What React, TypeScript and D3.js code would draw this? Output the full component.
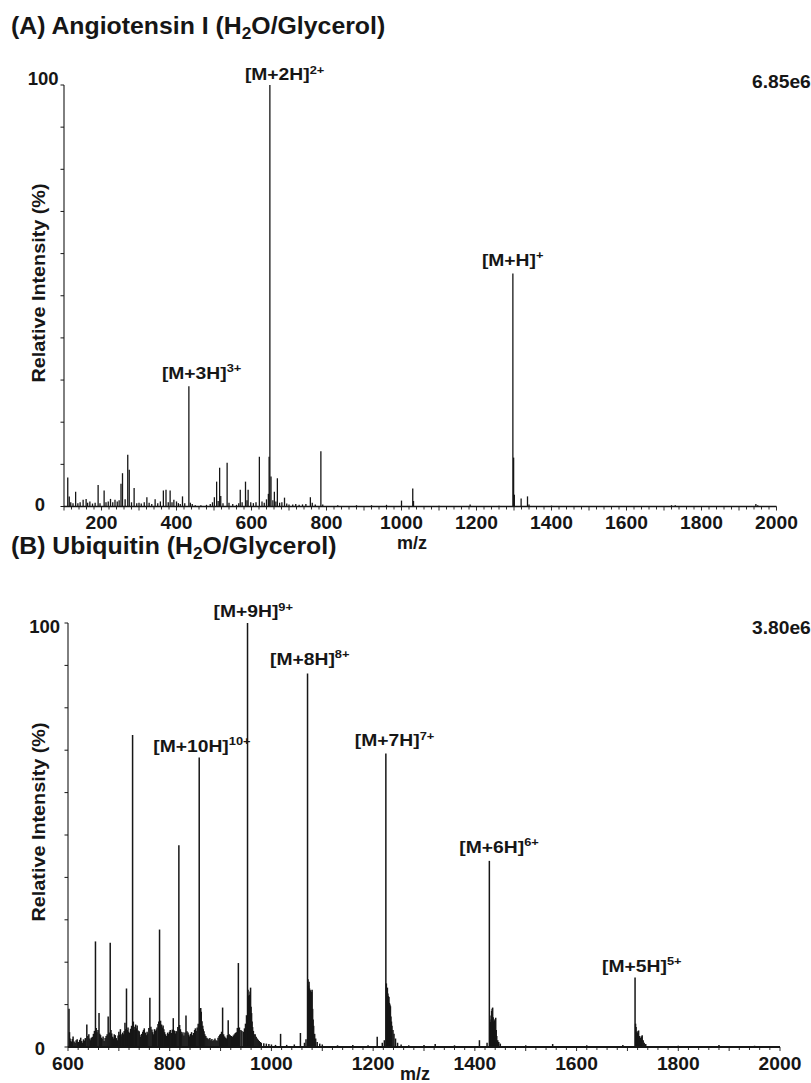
import React from "react";
import * as d3 from "d3";

const FONT = "'Liberation Sans', Arial, Helvetica, sans-serif";
const INK = "#161616";

// ---------- Angiotensin I (H2O/Glycerol): [m/z, relative intensity %] ----------
const angiotensinPeaks: [number, number][] = [
  [110, 6.9], [114, 2.4], [118, 1.0], [124, 0.8], [131, 3.5], [137, 0.8], [143, 1.0],
  [151, 1.6], [159, 1.8], [163, 0.9], [169, 1.2], [176, 0.7], [183, 0.9], [191, 5.1],
  [196, 0.8], [207, 3.8], [212, 1.0], [218, 1.2], [224, 1.8], [230, 1.0], [236, 1.6],
  [242, 1.2], [247, 1.5], [252, 5.4], [256, 7.9], [263, 1.7], [270, 12.3], [274, 8.7],
  [280, 1.0], [287, 4.4], [294, 0.8], [300, 0.9], [306, 0.7], [314, 1.0], [321, 2.2],
  [327, 0.9], [334, 0.6], [343, 1.7], [350, 0.8], [357, 1.2], [365, 3.8], [372, 4.0],
  [378, 1.0], [383, 3.8], [388, 1.0], [393, 1.6], [400, 1.2], [405, 0.8], [410, 0.6],
  [416, 2.4], [422, 0.8], [433, 28.5], [437, 0.9], [442, 0.6], [450, 0.3], [465, 0.3],
  [480, 0.4], [490, 0.6], [496, 1.0], [501, 2.2], [507, 5.9], [511, 1.3], [515, 9.2],
  [518, 2.5], [524, 0.8], [535, 10.4], [540, 0.9], [550, 0.6], [560, 0.4], [566, 0.8],
  [570, 4.0], [575, 1.0], [584, 5.9], [588, 1.5], [591, 4.0], [598, 1.0], [605, 0.8],
  [612, 1.0], [621, 11.8], [628, 1.2], [634, 0.9], [640, 1.7], [645, 3.0], [647, 11.8],
  [649, 100], [652, 7.1], [657, 1.5], [661, 3.5], [665, 1.2], [669, 6.7], [675, 0.9],
  [681, 1.0], [688, 2.1], [694, 0.7], [700, 0.5], [710, 0.5], [718, 0.6], [727, 0.4],
  [736, 0.5], [745, 0.6], [757, 2.2], [762, 0.9], [770, 0.5], [785, 13.1], [790, 0.5],
  [830, 0.3], [880, 0.3], [920, 0.3], [960, 0.4], [1000, 1.4], [1030, 4.3], [1032, 1.3],
  [1100, 0.2], [1183, 0.5], [1260, 0.2], [1297, 55.3], [1299, 11.6], [1301, 2.8],
  [1319, 1.9], [1336, 2.4], [1340, 0.5], [1400, 0.2], [1720, 0.3], [1730, 0.3],
  [1945, 0.6], [1950, 0.3],
];

const angiotensinIons = [
  { ion: "[M+3H]", charge: "3+", mz: 433 },
  { ion: "[M+2H]", charge: "2+", mz: 649 },
  { ion: "[M+H]", charge: "+", mz: 1297 },
];

const angiotensinXTicks = [200, 400, 600, 800, 1000, 1200, 1400, 1600, 1800, 2000];

// ---------- Ubiquitin (H2O/Glycerol): [m/z, relative intensity %] ----------
const ubiquitinPeaks: [number, number][] = [
  // low-level chemical background
  [602, 9.0], [603, 3.5], [604, 2.0], [605.5, 1.4], [607, 1.2], [608.5, 1.9], [610, 2.5],
  [612, 1.3], [614, 1.0], [616, 1.6], [618, 1.8], [619.5, 1.1], [621, 1.2], [623, 1.7],
  [625, 2.2], [627, 1.4], [629, 1.0], [630.5, 1.8], [632, 1.5], [634, 2.1], [637, 5.3],
  [639, 2.6], [641, 3.0], [643, 2.0], [644, 1.6], [646, 2.2], [648, 2.4], [650, 3.1],
  [652, 3.8], [654, 24.9], [655.5, 4.5], [657, 3.5], [659, 4.0], [661, 8.0], [662.5, 3.1],
  [664, 2.8], [666, 2.2], [667, 1.9], [669, 2.5], [671, 1.4], [673, 2.1], [675, 2.6],
  [677, 3.0], [679, 7.2], [681, 3.4], [683, 24.6], [684.5, 4.0], [686, 3.2], [688, 2.4],
  [689, 2.0], [691, 3.0], [693, 2.8], [695, 2.1], [697, 1.6], [698.5, 2.7], [700, 3.6],
  [701.5, 2.9], [703, 4.2], [704.5, 3.0], [706, 2.5], [707.5, 3.4], [709, 3.0], [710.5, 3.8],
  [712, 5.7], [713.5, 4.2], [715, 13.8], [716.5, 4.0], [718, 4.6], [719.5, 3.6], [721, 3.3],
  [723, 4.3], [725, 5.0], [727, 73.6], [728.5, 6.0], [730, 4.8], [731.5, 4.0], [733, 5.3],
  [734.5, 4.4], [736, 5.1], [738, 3.9], [740, 3.7], [741.5, 2.9], [743, 2.4], [745, 3.1],
  [747, 3.6], [748.5, 4.0], [750, 4.4], [752, 3.4], [754, 2.8], [755.5, 3.6], [757, 3.2],
  [759, 4.5], [761, 11.6], [763, 4.8], [765, 4.1], [766.5, 3.5], [768, 3.0], [770, 4.2],
  [772, 3.8], [773.5, 4.1], [775, 4.6], [777, 5.4], [778.5, 6.0], [780, 27.7], [782, 6.2],
  [784, 5.3], [785.5, 4.6], [787, 5.1], [788.5, 4.2], [790, 3.5], [792, 3.0], [794, 2.6],
  [796, 3.4], [798, 3.1], [799.5, 3.6], [801, 4.0], [803, 3.3], [805, 4.1], [807, 6.8],
  [809, 3.9], [811, 3.2], [812.5, 3.8], [814, 3.6], [816, 4.7], [818, 47.6], [819.5, 5.2],
  [821, 4.2], [822.5, 3.6], [824, 3.0], [826, 3.5], [828, 2.7], [830, 3.4], [832, 7.4],
  [834, 3.7], [836, 3.4], [837.5, 2.9], [839, 2.5], [841, 3.1], [843, 3.5], [845, 2.8],
  [847, 3.3], [849, 4.0], [850.5, 4.4], [852, 3.8], [854, 4.6], [856, 5.5], [858, 68.3],
  [859, 9.0], [860, 8.7], [861, 9.2], [862, 8.3], [863.5, 6.1], [865, 5.0], [866, 4.2],
  [867.5, 3.7], [869, 3.0], [871, 2.6], [873, 2.2], [875, 2.0], [877, 1.8], [879, 2.1],
  [881, 1.6], [883, 1.9], [885, 1.4], [887, 1.7], [889, 2.0], [891, 1.6], [893, 1.5],
  [895, 2.2], [897, 2.6], [898.5, 2.9], [900, 3.1], [902, 3.6], [904, 9.3], [906, 3.0],
  [908, 2.5], [910, 2.2], [912, 2.0], [913.5, 2.8], [915, 6.3], [917, 3.0], [919, 2.8],
  [921, 2.6], [923, 2.4], [925, 2.7], [927, 3.0], [929, 3.3], [931, 3.5], [933, 4.5],
  [935, 19.8], [937, 4.6], [940, 4.0], [942, 3.8], [945, 3.6], [947, 4.4], [949, 5.5],
  [951, 7.5],
  // 9+ envelope
  [953, 100], [954, 13.5], [955, 12.1], [956, 11.6], [957, 12.3], [958, 13.1], [959, 14.0],
  [960, 9.5], [961, 8.0], [962, 6.0], [963, 4.7], [964.5, 3.8], [966, 3.0], [968, 3.0],
  [970, 2.4], [972, 2.0], [974, 1.7], [976, 1.4], [978, 1.2], [980, 1.0], [985, 0.9],
  [990, 0.8], [995, 0.7], [1000, 0.6], [1008, 0.5], [1018, 3.1], [1030, 0.5], [1045, 0.6],
  [1057, 3.3], [1065, 1.0], [1068, 1.8],
  // 8+ envelope
  [1071, 88.1], [1072, 16.0], [1073, 14.5], [1074, 15.4], [1075, 13.8], [1076, 12.9],
  [1077, 13.4], [1078, 12.6], [1079, 13.0], [1080, 13.5], [1081, 9.0], [1082, 6.5],
  [1083, 5.0], [1085, 3.1], [1087, 2.0], [1090, 1.2], [1095, 0.8], [1100, 0.6],
  [1130, 0.4], [1160, 0.5], [1190, 0.4], [1208, 2.4], [1218, 1.0], [1222, 1.6],
  // 7+ envelope
  [1225, 69.2], [1226, 15.0], [1227, 13.2], [1228, 14.0], [1229, 12.6], [1230, 12.0],
  [1231, 11.8], [1232, 10.4], [1233, 10.0], [1234, 9.6], [1235, 7.2], [1236, 6.0],
  [1237, 5.0], [1239, 4.0], [1241, 3.1], [1244, 2.0], [1248, 1.0], [1255, 0.6],
  [1270, 0.4], [1300, 0.5], [1322, 0.7], [1360, 0.4], [1409, 1.6], [1424, 1.0],
  // 6+ envelope
  [1428.5, 43.9], [1429.5, 6.5], [1431, 5.9], [1432, 7.4], [1433, 8.5], [1434, 9.0],
  [1435, 9.3], [1436, 7.0], [1437, 6.0], [1438, 5.9], [1439, 6.3], [1440, 6.6],
  [1441, 6.9], [1442, 4.0], [1443, 2.6], [1445, 1.6], [1447, 1.2], [1450, 0.8],
  [1500, 0.4], [1553, 0.7], [1620, 0.4], [1691, 0.5],
  // 5+ envelope
  [1715, 16.4], [1716, 5.5], [1717, 4.7], [1718, 3.6], [1719, 3.0], [1720, 3.4],
  [1721, 3.8], [1722, 3.9], [1724, 2.6], [1726, 2.2], [1728, 2.5], [1729, 2.8],
  [1731, 1.6], [1733, 1.0], [1736, 0.7], [1800, 0.3], [1880, 0.5], [1950, 0.3],
];

const ubiquitinIons = [
  { ion: "[M+10H]", charge: "10+", mz: 858 },
  { ion: "[M+9H]", charge: "9+", mz: 953 },
  { ion: "[M+8H]", charge: "8+", mz: 1071 },
  { ion: "[M+7H]", charge: "7+", mz: 1225 },
  { ion: "[M+6H]", charge: "6+", mz: 1428.5 },
  { ion: "[M+5H]", charge: "5+", mz: 1715 },
];

const ubiquitinXTicks = [600, 800, 1000, 1200, 1400, 1600, 1800, 2000];

// ---------- layout ----------
type Layout = {
  left: number; right: number; top: number; base: number;
  titleY: number; tickLabelY: number; mzX: number; mzY: number;
  y100: [number, number]; y0: [number, number];
  yLabelCenter: number; scaleY: number; stick: number; axisW: number;
  ionOffsets: [number, number][]; // label left offset from peak, baseline gap above peak top
};

const layoutA: Layout = {
  left: 64, right: 776.5, top: 85, base: 506.5,
  titleY: 34, tickLabelY: 529, mzX: 412, mzY: 549,
  y100: [58.5, 85], y0: [45, 511],
  yLabelCenter: 283, scaleY: 88, stick: 1.3, axisW: 1.4,
  ionOffsets: [[-27, 7.5], [-25, 5], [-31, 7.5]],
};

const layoutB: Layout = {
  left: 68, right: 780, top: 623, base: 1047,
  titleY: 554, tickLabelY: 1070, mzX: 415, mzY: 1080,
  y100: [60, 633], y0: [45, 1055],
  yLabelCenter: 822, scaleY: 634, stick: 1.5, axisW: 2,
  ionOffsets: [[-46, 5.5], [-34, 6], [-37.5, 8.5], [-31, 7.5], [-30, 8], [-33, 5.5]],
};

type Ion = { ion: string; charge: string; mz: number };

function Spectrum(props: {
  peaks: [number, number][];
  ions: Ion[];
  domain: [number, number];
  ticks: number[];
  layout: Layout;
  titleHead: string;
  titleTail: string;
  baseIntensity: string;
}) {
  const { peaks, ions, domain, ticks, layout: L, titleHead, titleTail, baseIntensity } = props;
  const x = d3.scaleLinear().domain(domain).range([L.left, L.right]);
  const y = d3.scaleLinear().domain([0, 100]).range([L.base, L.top]);
  const minor = d3.range(domain[0], domain[1] + 0.1, 20);
  const yTicks = d3.range(0, 101, 10);
  const valueAt = (mz: number) => {
    const p = peaks.find((d) => d[0] === mz);
    return p ? p[1] : 0;
  };

  return (
    <g>
      {/* panel title */}
      <text
        transform={`translate(11,${L.titleY}) scale(1.08,1)`}
        fontFamily={FONT} fontWeight="bold" fontSize={23} fill={INK}
      >
        <tspan>{titleHead}</tspan>
        <tspan fontSize={16} dy={5}>2</tspan>
        <tspan dy={-5}>{titleTail}</tspan>
      </text>

      {/* stick spectrum */}
      <g stroke={INK} strokeWidth={L.stick}>
        {peaks.map(([mz, v], i) => (
          <line key={i} x1={x(mz)} x2={x(mz)} y1={y(0)} y2={y(v)} />
        ))}
      </g>

      {/* y axis */}
      <line x1={L.left} x2={L.left} y1={y(0)} y2={y(100)} stroke={INK} strokeWidth={1.1} />
      <g stroke={INK} strokeWidth={1}>
        {yTicks.map((t) => (
          <line key={t} x1={L.left - 3.5} x2={L.left} y1={y(t)} y2={y(t)} />
        ))}
      </g>
      <text x={L.y100[0]} y={L.y100[1]} textAnchor="end" fontFamily={FONT}
        fontWeight="bold" fontSize={18.5} fill={INK}>100</text>
      <text x={L.y0[0]} y={L.y0[1]} textAnchor="end" fontFamily={FONT}
        fontWeight="bold" fontSize={18.5} fill={INK}>0</text>
      <text
        transform={`translate(45,${L.yLabelCenter}) rotate(-90) scale(1.1,1)`}
        textAnchor="middle" fontFamily={FONT} fontWeight="bold" fontSize={18} fill={INK}
      >
        Relative Intensity (%)
      </text>

      {/* x axis */}
      <line x1={L.left} x2={L.right} y1={y(0)} y2={y(0)} stroke={INK} strokeWidth={L.axisW} />
      <g stroke={INK} strokeWidth={0.9}>
        {minor.map((t) => (
          <line key={t} x1={x(t)} x2={x(t)} y1={y(0)} y2={y(0) + (t % 100 === 0 ? 4 : 3)} />
        ))}
      </g>
      {ticks.map((t) => (
        <text key={t} transform={`translate(${x(t)},${L.tickLabelY}) scale(1.04,1)`}
          textAnchor="middle" fontFamily={FONT} fontWeight="bold" fontSize={18.5} fill={INK}>
          {t}
        </text>
      ))}
      <text x={L.mzX} y={L.mzY} textAnchor="middle" fontFamily={FONT}
        fontWeight="bold" fontSize={18} fill={INK}>m/z</text>

      {/* base-peak intensity */}
      <text transform={`translate(752,${L.scaleY}) scale(1.04,1)`} fontFamily={FONT}
        fontWeight="bold" fontSize={18.5} fill={INK}>{baseIntensity}</text>

      {/* ion assignments */}
      {ions.map((d, i) => {
        const [dx, gap] = L.ionOffsets[i];
        return (
          <text key={d.ion}
            transform={`translate(${x(d.mz) + dx},${y(valueAt(d.mz)) - gap}) scale(1.17,1)`}
            fontFamily={FONT} fontWeight="bold" fontSize={16.5} fill={INK}>
            <tspan>{d.ion}</tspan>
            <tspan fontSize={11} dy={-6.5}>{d.charge}</tspan>
          </text>
        );
      })}
    </g>
  );
}

export default function App() {
  return (
    <svg
      width={811}
      height={1083}
      viewBox="0 0 811 1083"
      style={{ position: "absolute", left: 0, top: 0, background: "#fff" }}
    >
      <rect width={811} height={1083} fill="#fff" />
      <Spectrum
        peaks={angiotensinPeaks}
        ions={angiotensinIons}
        domain={[100, 2000]}
        ticks={angiotensinXTicks}
        layout={layoutA}
        titleHead="(A) Angiotensin I (H"
        titleTail="O/Glycerol)"
        baseIntensity="6.85e6"
      />
      <Spectrum
        peaks={ubiquitinPeaks}
        ions={ubiquitinIons}
        domain={[600, 2000]}
        ticks={ubiquitinXTicks}
        layout={layoutB}
        titleHead="(B) Ubiquitin (H"
        titleTail="O/Glycerol)"
        baseIntensity="3.80e6"
      />
    </svg>
  );
}
